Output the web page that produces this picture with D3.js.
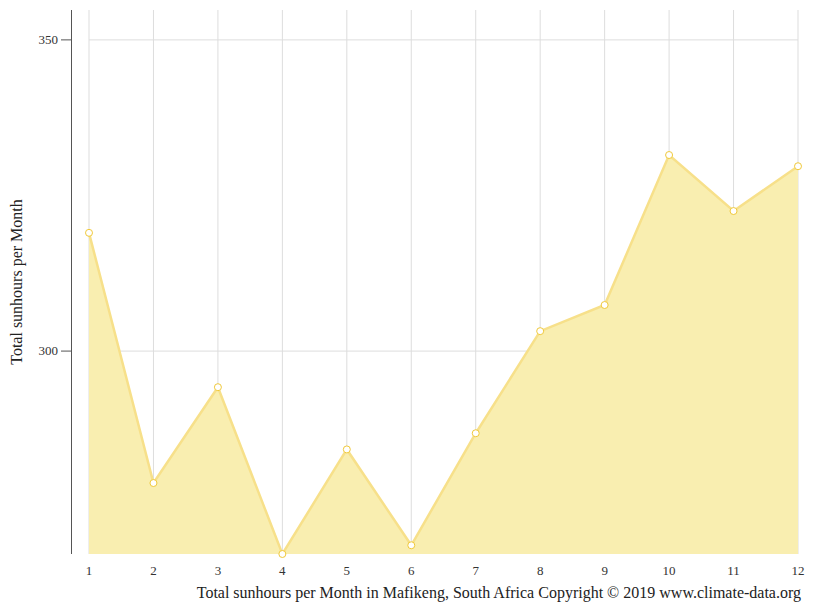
<!DOCTYPE html>
<html><head><meta charset="utf-8">
<script src="https://cdn.jsdelivr.net/npm/d3@7"></script>
<style>body{margin:0;background:#fff}</style></head>
<body><svg id="c" width="815" height="611"></svg>
<script>
const months=[1,2,3,4,5,6,7,8,9,10,11,12];
const sunhours=[319.0,278.8,294.2,267.4,284.2,268.8,286.8,303.2,307.4,331.5,322.5,329.7];
const yTicks=[300,350];
const svg=d3.select("#c");
const x=d3.scaleLinear().domain([1,12]).range([89,798]);
const y=d3.scaleLinear().domain([267.4,354.8]).range([554,10]);
const font="Liberation Serif, serif";
const g=svg.append("g");
months.forEach(m=>g.append("line").attr("x1",x(m)).attr("x2",x(m)).attr("y1",10).attr("y2",554).attr("stroke","#ddd"));
yTicks.forEach(t=>g.append("line").attr("x1",89).attr("x2",798).attr("y1",y(t)).attr("y2",y(t)).attr("stroke","#ddd"));
const data=months.map((m,i)=>[m,sunhours[i]]);
svg.append("path").datum(data).attr("d",d3.area().x(d=>x(d[0])).y0(554).y1(d=>y(d[1]))).attr("fill","#f9eeb0");
svg.append("path").datum(data).attr("d",d3.line().x(d=>x(d[0])).y(d=>y(d[1]))).attr("fill","none").attr("stroke","#f7e08a").attr("stroke-width",2.5);
svg.selectAll("circle").data(data).join("circle").attr("cx",d=>x(d[0])).attr("cy",d=>y(d[1])).attr("r",3.5).attr("fill","#fff").attr("stroke","#f0c93a").attr("stroke-width",1);
svg.append("line").attr("x1",71.5).attr("x2",71.5).attr("y1",10).attr("y2",554).attr("stroke","#555");
yTicks.forEach(t=>{svg.append("line").attr("x1",61).attr("x2",71).attr("y1",y(t)).attr("y2",y(t)).attr("stroke","#555");
svg.append("text").attr("x",58).attr("y",y(t)+4).attr("text-anchor","end").attr("font-family",font).attr("font-size",13).attr("fill","#333").text(t);});
months.forEach(m=>svg.append("text").attr("x",x(m)).attr("y",575).attr("text-anchor","middle").attr("font-family",font).attr("font-size",13).attr("fill","#333").text(m));
svg.append("text").attr("transform","translate(22,282) rotate(-90)").attr("text-anchor","middle").attr("font-family",font).attr("font-size",16).attr("fill","#222").text("Total sunhours per Month");
svg.append("text").attr("x",801).attr("y",598).attr("text-anchor","end").attr("font-family",font).attr("font-size",16).attr("fill","#222").text("Total sunhours per Month in Mafikeng, South Africa Copyright © 2019 www.climate-data.org");
</script></body></html>
